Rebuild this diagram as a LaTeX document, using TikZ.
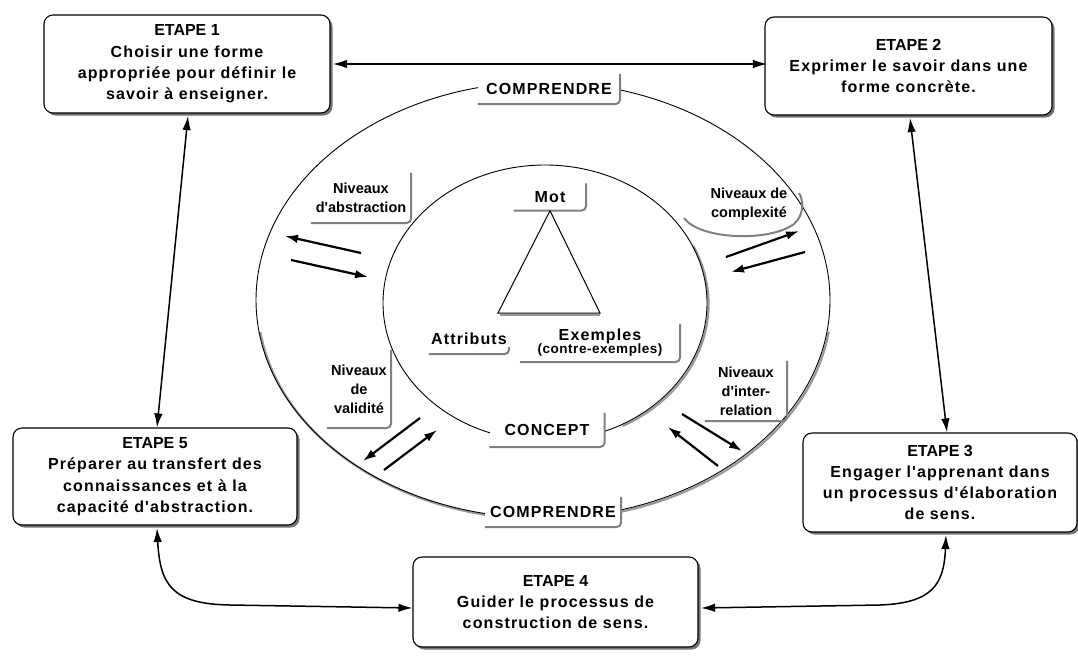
\documentclass[tikz,border=0pt]{standalone}
\usepackage{fontspec}
\setmainfont{Liberation Sans}
\newfontfamily\ls{Liberation Sans}[LetterSpace=7]
\newfontfamily\tg{Liberation Sans}
\usetikzlibrary{arrows.meta,shadows,calc}
\tikzset{
  etape/.style={draw, line width=1.1pt, rounded corners=9pt, fill=white, align=center,
    drop shadow={shadow xshift=2.5pt, shadow yshift=-2.5pt, fill=black!55, opacity=1},
    font=\ls\bfseries\fontsize{16}{21.3}\selectfont, inner sep=0pt},
  tag/.style={align=center, inner sep=0pt, font=\tg\bfseries\fontsize{14.5}{19}\selectfont},
  bigtag/.style={align=center, inner sep=0pt, font=\ls\bfseries\fontsize{16}{19}\selectfont},
  tagline/.style={draw=black!50, line width=2pt, rounded corners=5pt},
  link/.style={line width=1.5pt, {Latex[length=14pt,width=8.5pt]}-{Latex[length=14pt,width=8.5pt]}},
  pair/.style={line width=2.2pt, -{Latex[length=13pt,width=8.5pt]}},
  ring/.style={line width=0.9pt},
  ringshadow/.style={draw=black!40, line width=2.2pt},
}
\newcommand\tagsh[1]{\draw[tagline] (#1.north east) -- (#1.south east) -- (#1.south west);}
\newcommand\et[1]{{\tg\bfseries #1}}
\begin{document}
\begin{tikzpicture}[x=1pt,y=-1pt]
\useasboundingbox (0,0) rectangle (1078,656);

% rings
\draw[ringshadow] ($(544.5,301.5)+(-8:287pt and 218pt)$) arc[start angle=-8, end angle=-172, x radius=287pt, y radius=218pt];
\draw[ring] (543,300) ellipse [x radius=287pt, y radius=218pt];
\draw[ringshadow] ($(546.5,304.2)+(25:162pt and 138pt)$) arc[start angle=25, end angle=-62, x radius=162pt, y radius=138pt];
\draw[ring] (545,303) ellipse [x radius=162pt, y radius=138pt];

% ring labels
\node[bigtag, fill=white, minimum width=142pt, minimum height=30pt] (ctop) at (549,89) {COMPRENDRE};
\tagsh{ctop}
\node[bigtag, fill=white, minimum width=136pt, minimum height=30pt] (cbot) at (553,512) {COMPRENDRE};
\tagsh{cbot}
\node[bigtag, fill=white, minimum width=115pt, minimum height=34pt] (concept) at (547,430) {CONCEPT};
\tagsh{concept}

% triangle
\node[bigtag, minimum width=72pt, minimum height=27pt] (mot) at (550,197) {Mot};
\tagsh{mot}
\coordinate (tl) at (498,313);
\coordinate (tr) at (600,313);
\draw[black!40, line width=2.2pt] ([xshift=2pt,yshift=-1.8pt]tl) -- ([yshift=-1.8pt]tr);
\draw[line width=1pt] (mot.south) -- (tl) -- (tr) -- cycle;

\node[bigtag, minimum width=80pt, minimum height=30pt] (attr) at (469,339) {Attributs};
\draw[tagline] ([yshift=7pt]attr.south east) -- (attr.south east) -- (attr.south west);
\node[align=center, inner sep=0pt, minimum width=160pt, minimum height=38pt] (ex) at (600,343)
  {{\ls\bfseries\fontsize{16}{18}\selectfont Exemples}\\[-1pt]{\addfontfeature{LetterSpace=4}\bfseries\fontsize{13.5}{16}\selectfont (contre-exemples)}};
\tagsh{ex}

% niveaux labels
\node[tag, minimum width=100pt, minimum height=50pt] (nabs) at (361,198) {Niveaux\\d'abstraction};
\tagsh{nabs}
\node[tag] (ncomp) at (749,204) {Niveaux de\\complexité};
\draw[tagline, rounded corners=0pt] (684,218) .. controls (700,240) and (770,242) .. (794,224) .. controls (804,215) and (804,201) .. (799,193);
\node[tag, minimum width=64pt, minimum height=78pt] (nval) at (359,389) {Niveaux\\de\\validité};
\tagsh{nval}
\node[tag, minimum width=82pt, minimum height=60pt] (nint) at (746,391) {Niveaux\\d'inter-\\relation};
\tagsh{nint}

% arrow pairs
\coordinate (a1s) at (361,253); \coordinate (a1e) at (285,236);
\coordinate (a2s) at (291,260); \coordinate (a2e) at (368,277);
\coordinate (b1s) at (726,257); \coordinate (b1e) at (799,231);
\coordinate (b2s) at (805,252); \coordinate (b2e) at (731,272);
\coordinate (c1s) at (420,418); \coordinate (c1e) at (363,461);
\coordinate (c2s) at (384,470); \coordinate (c2e) at (437,430);
\coordinate (d1s) at (682,414); \coordinate (d1e) at (742,451);
\coordinate (d2s) at (718,466); \coordinate (d2e) at (668,427);
\foreach \p in {a1,a2,b1,b2,c1,c2,d1,d2} {\draw[pair] (\p s) -- (\p e);}

% steps
\node[etape, minimum width=286pt, minimum height=98pt] (e1) at (187,64)
  {\et{ETAPE 1}\\Choisir une forme\\appropriée pour définir le\\savoir à enseigner.};
\node[etape, minimum width=287pt, minimum height=98pt] (e2) at (908.5,66)
  {\et{ETAPE 2}\\Exprimer le savoir dans une\\forme concrète.};
\node[etape, minimum width=274pt, minimum height=99pt] (e3) at (940,482.5)
  {\et{ETAPE 3}\\Engager l'apprenant dans\\un processus d'élaboration\\de sens.};
\node[etape, minimum width=285pt, minimum height=90pt] (e4) at (555.5,602)
  {\et{ETAPE 4}\\Guider le processus de\\construction de sens.};
\node[etape, minimum width=284pt, minimum height=97pt] (e5) at (155,476.5)
  {\et{ETAPE 5}\\Préparer au transfert des\\connaissances et à la\\capacité d'abstraction.};

% connectors
\draw[link, line width=1.1pt] ([xshift=2.5pt]e1.east) -- ([xshift=2.5pt]e1.east -| e2.west);
\draw[link] ([xshift=1pt,yshift=-2.5pt]e1.south) -- ([xshift=2pt]e5.north);
\draw[link] ([xshift=1.5pt,yshift=-2.5pt]e2.south) -- ([xshift=7pt]e3.north);
\draw[link] ([xshift=2pt,yshift=-2.5pt]e5.south) .. controls (160,585) and (172,604) .. (230,605) -- ([yshift=-6pt]e4.west);
\draw[link] ([xshift=6pt,yshift=-2.5pt]e3.south) .. controls (944,585) and (932,603) .. (880,605) -- ([xshift=2.5pt,yshift=-6pt]e4.east);
\end{tikzpicture}
\end{document}
